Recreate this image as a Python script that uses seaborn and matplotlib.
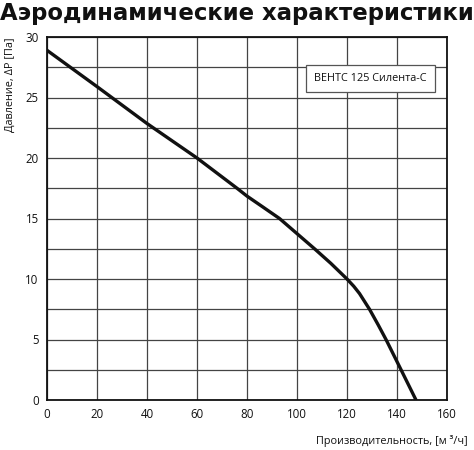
import numpy as np
import pandas as pd
import matplotlib
matplotlib.use("Agg")
import matplotlib.pyplot as plt
import seaborn as sns

# ── Data ─────────────────────────────────────────────────────────────────────
flow     = [0, 20, 40, 60, 76, 80, 86, 93, 100, 107, 113.5, 120, 122.7, 125, 129, 132.5, 135.6, 141.5, 147.6]
pressure = [28.9, 25.9, 22.85, 20.0, 17.5, 16.85, 16.0, 15.0, 13.75, 12.5, 11.3, 10.0, 9.4, 8.8, 7.5, 6.2, 5.0, 2.55, 0]
x_ticks  = [0, 20, 40, 60, 80, 100, 120, 140, 160]
y_ticks  = [0, 5, 10, 15, 20, 25, 30]
y_minor  = [2.5, 7.5, 12.5, 17.5, 22.5, 27.5]

TITLE  = "Аэродинамические характеристики"
XLABEL = "Производительность, [м ³/ч]"
YLABEL = "Давление, ΔP [Па]"
MODEL  = "ВЕНТС 125 Силента-С"

sns.set_style("white")
plt.rcParams["font.family"] = ["Open Sans", "DejaVu Sans"]

df = pd.DataFrame({"flow": flow, "pressure": pressure})

fig = plt.figure(figsize=(4.74, 4.5), dpi=100)
ax = fig.add_axes([47 / 474, 1 - 400 / 450, 400 / 474, 363 / 450])

sns.lineplot(data=df, x="flow", y="pressure", ax=ax, color="#111111", lw=2.4)

ax.set_xlim(0, 160)
ax.set_ylim(0, 30)
ax.set_xticks(x_ticks)
ax.set_yticks(y_ticks)
ax.set_yticks(y_minor, minor=True)
ax.grid(True, which="both", color="#444444", lw=0.9)
ax.tick_params(axis="both", which="major", direction="inout", length=6, width=1,
               labelsize=8.3, colors="#111111", pad=3)
ax.tick_params(axis="y", which="minor", length=0)
for s in ax.spines.values():
    s.set_color("#111111")
    s.set_linewidth(1.3)

ax.set_xlabel("")
ax.set_ylabel("")

fig.text(0.0, 0.995, TITLE, fontsize=16.4, fontweight="bold", ha="left", va="top",
         color="#111111", family=["DejaVu Sans"])
fig.text(468 / 474, 1 - 441 / 450, XLABEL, fontsize=7.8, ha="right", va="center", color="#111111")
fig.text(10 / 474, 1 - 38 / 450, YLABEL, fontsize=7.8, rotation=90, ha="center", va="top", color="#111111")

ax.text(0.95, 0.885, MODEL, transform=ax.transAxes, fontsize=7.8, ha="right", va="center",
        color="#111111", bbox=dict(boxstyle="square,pad=0.75", fc="white", ec="#555555", lw=0.9))

fig.savefig("out.png", dpi=100)
